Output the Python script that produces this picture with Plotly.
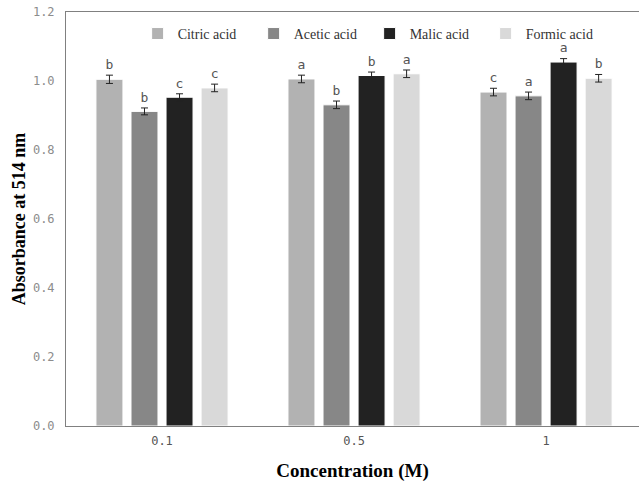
import plotly.graph_objects as go

concentrations = ["0.1", "0.5", "1"]
series_names = ["Citric acid", "Acetic acid", "Malic acid", "Formic acid"]
citric = [1.005, 1.006, 0.968]
acetic = [0.912, 0.931, 0.957]
malic = [0.953, 1.016, 1.055]
formic = [0.980, 1.021, 1.008]
citric_err = [0.012, 0.011, 0.011]
acetic_err = [0.010, 0.011, 0.011]
malic_err = [0.010, 0.010, 0.010]
formic_err = [0.011, 0.011, 0.011]
citric_lbl = ["b", "a", "c"]
acetic_lbl = ["b", "b", "a"]
malic_lbl = ["c", "b", "a"]
formic_lbl = ["c", "a", "b"]

values = [citric, acetic, malic, formic]
errors = [citric_err, acetic_err, malic_err, formic_err]
labels = [citric_lbl, acetic_lbl, malic_lbl, formic_lbl]
colors = ["#b2b2b2", "#878787", "#222222", "#d9d9d9"]

fig = go.Figure()
for i, name in enumerate(series_names):
    fig.add_trace(go.Bar(
        x=concentrations, y=values[i], name=name, offsetgroup=str(i),
        marker=dict(color=colors[i], line=dict(color="white", width=1)),
        error_y=dict(type="data", array=errors[i], color="#222222",
                     thickness=1, width=3.5),
    ))
for i, name in enumerate(series_names):
    tops = [v + e for v, e in zip(values[i], errors[i])]
    fig.add_trace(go.Scatter(
        x=concentrations, y=tops, mode="markers+text", text=labels[i],
        marker=dict(size=3, opacity=0),
        textposition="top center", offsetgroup=str(i), showlegend=False,
        textfont=dict(family="DejaVu Sans Mono", size=13, color="#555555"),
        cliponaxis=False, hoverinfo="skip",
    ))

fig.update_layout(
    width=639, height=482,
    margin=dict(l=66, r=0, t=12, b=56),
    paper_bgcolor="white", plot_bgcolor="white",
    barmode="group", bargap=0.27, bargroupgap=0.23,
    scattermode="group", scattergap=0.27,
    showlegend=True,
    legend=dict(orientation="h", x=0.125, y=0.947, xanchor="left", yanchor="middle",
                font=dict(family="Liberation Serif", size=14, color="#333333"),
                itemwidth=30, entrywidth=71, entrywidthmode="pixels",
                traceorder="normal", bgcolor="rgba(0,0,0,0)"),
    xaxis=dict(type="category", range=[-0.5, 2.484], showline=True, mirror=True,
               linecolor="#808080", linewidth=1, ticks="", showgrid=False,
               automargin=False, ticklabelstandoff=4,
               tickfont=dict(family="DejaVu Sans Mono", size=12, color="#555555"),
               title=dict(text="<b>Concentration (M)</b>", standoff=20,
                          font=dict(family="Liberation Serif", size=19, color="black"))),
    yaxis=dict(range=[0, 1.2001], tickvals=[0, 0.2, 0.4, 0.6, 0.8, 1.0, 1.2],
               tickformat=".1f", showline=True, mirror=False,
               linecolor="#808080", linewidth=1, ticks="", showgrid=False,
               zeroline=False, automargin=False, ticklabelstandoff=8,
               ticklabeloverflow="allow",
               tickfont=dict(family="DejaVu Sans Mono", size=12, color="#8c8c8c"),
               title=dict(text="<b>Absorbance at 514 nm</b>", standoff=2,
                          font=dict(family="Liberation Serif", size=18, color="black"))),
)

fig.write_html(
    "out.html",
    config={"displayModeBar": False},
    post_script="document.body.style.margin='0';document.body.style.overflow='hidden';",
)
